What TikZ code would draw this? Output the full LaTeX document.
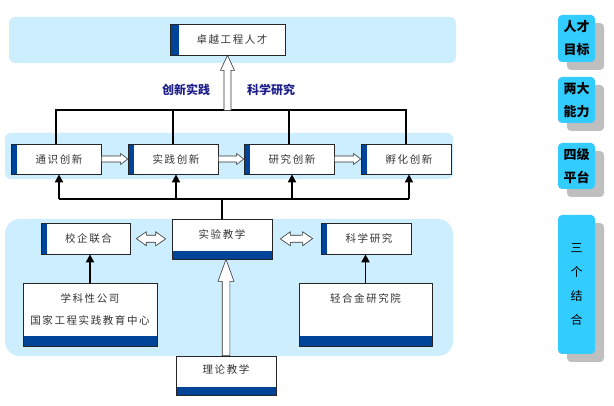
\documentclass[tikz,border=0pt]{standalone}
\usepackage{fontspec}
\newfontfamily\cjk[LetterSpace=15]{Noto Sans CJK SC}
\newfontfamily\cjkp{Noto Sans CJK SC}
\usetikzlibrary{calc,arrows.meta,shadows}
\definecolor{band}{HTML}{CCEEFF}
\definecolor{tag}{HTML}{33CCFF}
\definecolor{stripc}{HTML}{004499}
\definecolor{navy}{RGB}{31,31,140}
% hollow arrow: from #1 to #2, shaft half width #3, head half width #4, head length #5
\newcommand\hollowarr[5]{%
  \coordinate (ha) at (#1); \coordinate (hb) at (#2);
  \coordinate (hc) at ($(hb)!#5!(ha)$);
  \draw[hollow] ($(ha)!#3!90:(hb)$) -- ($(hc)!#3!-90:(ha)$) -- ($(hc)!#4!-90:(ha)$) -- (hb)
     -- ($(hc)!#4!90:(ha)$) -- ($(hc)!#3!90:(ha)$) -- ($(ha)!#3!-90:(hb)$) -- cycle;}
% double hollow arrow between #1 and #2 with gap #3
\newcommand\hollowdbl[6]{%
  \coordinate (ha) at ($(#1)!#3!(#2)$); \coordinate (hb) at ($(#2)!#3!(#1)$);
  \coordinate (hc) at ($(hb)!#6!(ha)$); \coordinate (hd) at ($(ha)!#6!(hb)$);
  \draw[hollow] (ha) -- ($(hd)!#5!90:(hb)$) -- ($(hd)!#4!90:(hb)$) -- ($(hc)!#4!-90:(ha)$)
     -- ($(hc)!#5!-90:(ha)$) -- (hb) -- ($(hc)!#5!90:(ha)$) -- ($(hc)!#4!90:(ha)$)
     -- ($(hd)!#4!-90:(hb)$) -- ($(hd)!#5!-90:(hb)$) -- cycle;}
\begin{document}
\begin{tikzpicture}[x=1pt,y=-1pt,
  box/.style={draw=black!85, line width=0.7pt, fill=white, inner sep=0pt,
    font=\cjk\fontsize{10.5}{22}\selectfont, text=black!80},
  lstrip/.style={path picture={\fill[stripc] (path picture bounding box.north west) rectangle ([xshift=#1]path picture bounding box.south west);}},
  bstrip/.style={path picture={\fill[stripc] (path picture bounding box.south west) rectangle ([yshift=#1]path picture bounding box.south east);}},
  tree/.style={line width=1.8pt, black},
  tipst/.style={-{Triangle[length=8pt,width=8pt]}},
  hollow/.style={draw=black!80, fill=white, line width=0.6pt, line join=miter},
  bandst/.style={fill=band, draw=none},
  tagst/.style={fill=tag, rounded corners=4pt, minimum width=37pt, inner sep=0pt, align=center,
    drop shadow={shadow xshift=9pt, shadow yshift=-8pt, fill=black!25, opacity=1},
    font=\cjkp\bfseries\fontsize{13}{23}\selectfont},
  capst/.style={font=\cjkp\bfseries\fontsize{12}{14}\selectfont, text=navy, inner sep=0pt}
]
\fill[white] (0,0) rectangle (614,406);
\useasboundingbox (0,0) rectangle (614,406);

% bands
\fill[bandst, rounded corners=6pt] (9,17) rectangle (456,63);
\fill[bandst, rounded corners=6pt] (5,133) rectangle (453,179);
\fill[bandst, rounded corners=15pt] (5,219) rectangle (453,356);

% top
\node[box, lstrip=9pt, minimum width=115pt, text height=20pt, text depth=11pt] (top) at (227.5,39.5) {\hspace*{9pt}卓越工程人才};

% row 2
\foreach \n/\x/\t in {b1/56/通识创新, b2/173/实践创新, b3/289/研究创新, b4/406/孵化创新}
  \node[box, lstrip=6pt, minimum width=90pt, text height=20pt, text depth=10pt] (\n) at (\x,159) {\hspace*{6pt}\t};

% row 3
\node[box, lstrip=6pt, minimum width=89pt, text height=20pt, text depth=11pt] (xq) at (85.5,238.5) {\hspace*{6pt}校企联合};
\node[box, bstrip=8pt, minimum width=100pt, text height=20pt, text depth=20pt] (sy) at (222,239) {实验教学};
\node[box, lstrip=6pt, minimum width=90pt, text height=20pt, text depth=11pt] (ky) at (366,238.5) {\hspace*{6pt}科学研究};
\node[box, bstrip=10pt, minimum width=134pt, minimum height=63pt, text depth=10pt, align=center] (xk) at (90,314.5) {学科性公司\\国家工程实践教育中心};
\node[box, bstrip=10pt, minimum width=133pt, text height=20pt, text depth=43pt] (qj) at (365.5,314.5) {轻合金研究院};
\node[box, bstrip=8pt, minimum width=100pt, text height=18pt, text depth=21pt] (ll) at (226,375.5) {理论教学};

% captions
\node[capst] (c1) at (186,90) {创新实践};
\node[capst] (c2) at (271,90) {科学研究};

% top tree
\path (top.south) ++(0,55) coordinate (tbar);
\draw[tree] (b1.north) |- (b4.north |- tbar) -- (b4.north);
\draw[tree] (b2.north) -- (b2.north |- tbar);
\draw[tree] (b3.north) -- (b3.north |- tbar);
\hollowarr{top.south |- tbar}{top.south}{3.5pt}{7pt}{15pt}

% row 2 hollow arrows
\hollowarr{b1.east}{b2.west}{3pt}{5.5pt}{7pt}
\hollowarr{b2.east}{b3.west}{3pt}{5.5pt}{7pt}
\hollowarr{b3.east}{b4.west}{3pt}{5.5pt}{7pt}

% bottom tree
\path (sy.north) ++(0,-20) coordinate (bbar);
\foreach \i in {1,...,4} \coordinate (s\i) at ([xshift=3pt]b\i.south);
\draw[tree] (s1 |- bbar) -- (s4 |- bbar);
\draw[tree] (sy.north) -- (bbar);
\foreach \i in {1,...,4} \draw[tree, tipst] (s\i |- bbar) -- (s\i);

% row 3 connectors
\hollowdbl{xq.east}{sy.west}{6pt}{3.5pt}{7pt}{10pt}
\hollowdbl{sy.east}{ky.west}{8pt}{3.5pt}{7pt}{10pt}
\draw[tree, tipst] (xk.north) -- (xk.north |- xq.south);
\draw[tree, tipst] (qj.north) -- (qj.north |- ky.south);
\hollowarr{ll.north}{ll.north |- sy.south}{3.8pt}{8pt}{22pt}

% tags
\node[tagst, minimum height=47pt] (t1) at (576.5,38.5) {人才\\目标};
\node[tagst, minimum height=46pt] (t2) at (576.5,100) {两大\\能力};
\node[tagst, minimum height=46pt] (t3) at (576.5,166) {四级\\平台};
\node[tagst, minimum height=139pt, font=\cjkp\fontsize{12}{24}\selectfont] (t4) at (576.5,284.5) {三\\个\\结\\合};
\end{tikzpicture}
\end{document}
